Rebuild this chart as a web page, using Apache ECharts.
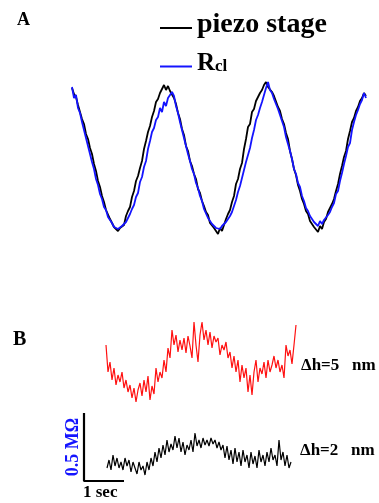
<!DOCTYPE html>
<html>
<head>
<meta charset="utf-8">
<script src="https://cdn.jsdelivr.net/npm/echarts@6/dist/echarts.min.js"></script>
<style>
html,body{margin:0;padding:0;background:#fff;}
#chart{width:379px;height:503px;}
</style>
</head>
<body>
<div id="chart"></div>
<script>
// Sampling interval (s)
const dtA = 0.05;
const dtB = 0.05;

// Panel A: piezo stage displacement and Rcl (a.u.)
const piezoA = [
152,146,143,135,133,121,116,106,101,92,
86,76,69,59,53,44,38,30,28,21,
19,13,14,9,12,13,15,24,29,33,
43,49,59,64,72,79,91,99,108,114,
123,129,138,141,147,151,155,150,154,149,
148,142,136,127,121,111,105,94,89,79,
74,66,61,51,47,39,34,28,25,17,
15,12,11,6,12,9,15,21,26,30,
38,44,56,61,71,77,91,101,113,116,
128,131,139,143,147,150,155,158,153,152,
148,144,143,133,129,121,116,107,101,89,
81,71,65,55,49,41,36,29,26,19,
18,13,11,8,14,11,18,21,28,29,
36,41,49,56,66,74,83,89,101,109,
118,122,129,133,139,142,147,144
];
const rclA = [
153,142,145,132,127,118,110,102,94,86,
78,71,61,55,46,41,33,30,23,21,
17,13,14,11,12,14,13,18,20,26,
31,35,43,47,58,63,73,79,91,99,
108,112,120,123,132,128,138,134,142,140,
148,144,134,127,118,110,102,94,86,79,
71,66,57,52,44,39,31,29,22,20,
16,14,12,14,11,14,12,18,20,24,
28,34,40,48,54,62,70,78,85,92,
102,110,120,125,132,138,145,152,158,150,
147,141,139,131,129,119,113,103,96,89,
81,71,66,57,53,44,39,32,29,24,
22,18,16,14,19,16,20,18,25,28,
33,37,46,49,59,67,76,84,93,97,
110,118,125,130,136,140,147,142
];

// Panel B: Rcl traces (a.u., 68 units = 0.5 MOhm)
const rcl5nm = [
136,109,119,101,113,96,106,99,109,93,
101,89,96,83,93,79,91,98,85,101,
89,105,81,95,87,113,99,109,103,121,
109,133,123,151,136,146,129,141,131,143,
128,145,135,123,159,136,119,146,159,141,
151,136,149,133,145,139,143,126,136,131,
139,123,129,113,125,109,121,99,116,103,
113,89,106,86,109,121,99,113,107,119,
103,121,109,116,125,113,121,109,116,103,
136,125,131,117,136,156
];
const rcl2nm = [
13,21,11,26,15,23,13,19,11,23,
15,21,9,19,13,7,19,11,15,6,
19,11,23,15,29,19,33,23,36,26,
41,29,37,31,45,33,43,29,39,26,
36,31,41,29,48,35,41,33,43,36,
41,35,43,37,41,33,39,31,36,23,
35,21,31,17,33,19,29,15,31,19,
26,13,29,17,25,13,31,19,26,15,
29,19,33,21,26,15,41,21,29,15,
26,13,19
];
const rcl2nmStart = 0.025; // s

// Scale bar
const scaleBarSec = 1;
const scaleBarUnits = 68; // 0.5 MOhm
const scaleBarStart = -0.55;

const labelsB = ['\u0394h=5   nm', '\u0394h=2   nm'];

const FONT = '"Liberation Serif","Times New Roman",serif';

const toPairs = (arr, dt, t0) => arr.map((v, i) => [t0 + i * dt, v]);

const chart = echarts.init(document.getElementById('chart'), null, {renderer: 'canvas'});

const option = {
  animation: false,
  backgroundColor: '#fff',
  grid: [
    {left: 72, right: 13, top: 80, bottom: 263},
    {left: 84, right: 83, top: 300, bottom: 22}
  ],
  xAxis: [
    {type: 'value', gridIndex: 0, min: 0, max: (piezoA.length - 1) * dtA, show: false},
    {type: 'value', gridIndex: 1, min: scaleBarStart, max: (rcl5nm.length - 1) * dtB, show: false}
  ],
  yAxis: [
    {type: 'value', gridIndex: 0, min: 0, max: 160, show: false},
    {type: 'value', gridIndex: 1, min: 0, max: 181, show: false}
  ],
  legend: {
    orient: 'vertical',
    left: 155,
    top: 6,
    itemWidth: 32,
    itemHeight: 2,
    itemGap: 6,
    icon: 'rect',
    data: ['piezo stage', 'Rcl'],
    formatter: function (name) {
      return name === 'Rcl' ? '{r|R}{s|cl}' : '{p|piezo stage}';
    },
    textStyle: {
      color: '#000',
      rich: {
        p: {fontFamily: FONT, fontWeight: 'bold', fontSize: 28, lineHeight: 32, padding: [0, 0, 6, 0]},
        r: {fontFamily: FONT, fontWeight: 'bold', fontSize: 25, lineHeight: 32, padding: [0, 0, 6, 0]},
        s: {fontFamily: FONT, fontWeight: 'bold', fontSize: 17, lineHeight: 32, padding: [0, 0, 0, 0]}
      }
    }
  },
  series: [
    {
      name: 'piezo stage', type: 'line', xAxisIndex: 0, yAxisIndex: 0,
      data: toPairs(piezoA, dtA, 0), showSymbol: false, symbol: 'none',
      lineStyle: {color: '#000', width: 1.8}, itemStyle: {color: '#000'}
    },
    {
      name: 'Rcl', type: 'line', xAxisIndex: 0, yAxisIndex: 0,
      data: toPairs(rclA, dtA, 0), showSymbol: false, symbol: 'none',
      lineStyle: {color: '#1414ff', width: 1.8}, itemStyle: {color: '#1414ff'}
    },
    {
      name: 'dh5', type: 'line', xAxisIndex: 1, yAxisIndex: 1,
      data: toPairs(rcl5nm, dtB, 0), showSymbol: false, symbol: 'none',
      lineStyle: {color: '#ff1010', width: 1.2}
    },
    {
      name: 'dh2', type: 'line', xAxisIndex: 1, yAxisIndex: 1,
      data: toPairs(rcl2nm, dtB, rcl2nmStart), showSymbol: false, symbol: 'none',
      lineStyle: {color: '#000', width: 1.2}
    },
    {
      name: 'scalebar', type: 'line', xAxisIndex: 1, yAxisIndex: 1, clip: false,
      data: [[scaleBarStart, scaleBarUnits], [scaleBarStart, 0], [scaleBarStart + scaleBarSec, 0]],
      showSymbol: false, symbol: 'none',
      lineStyle: {color: '#000', width: 2.2}
    }
  ],
  graphic: [
    {type: 'text', x: 17, y: 20, style: {text: 'A', font: 'bold 18px ' + FONT, fill: '#000', textAlign: 'left', textVerticalAlign: 'middle'}},
    {type: 'text', x: 13, y: 340, style: {text: 'B', font: 'bold 20px ' + FONT, fill: '#000', textAlign: 'left', textVerticalAlign: 'middle'}},
    {type: 'text', x: 301, y: 366, style: {text: labelsB[0], font: 'bold 17px ' + FONT, fill: '#000', textAlign: 'left', textVerticalAlign: 'middle'}},
    {type: 'text', x: 300, y: 451, style: {text: labelsB[1], font: 'bold 17px ' + FONT, fill: '#000', textAlign: 'left', textVerticalAlign: 'middle'}},
    {type: 'text', x: 73, y: 447, rotation: Math.PI / 2, style: {text: '0.5 M\u03A9', font: 'bold 18px ' + FONT, fill: '#1414ff', textAlign: 'center', textVerticalAlign: 'middle'}},
    {type: 'text', x: 83, y: 493, style: {text: '1 sec', font: 'bold 17px ' + FONT, fill: '#000', textAlign: 'left', textVerticalAlign: 'middle'}}
  ]
};
chart.setOption(option);
</script>
</body>
</html>
